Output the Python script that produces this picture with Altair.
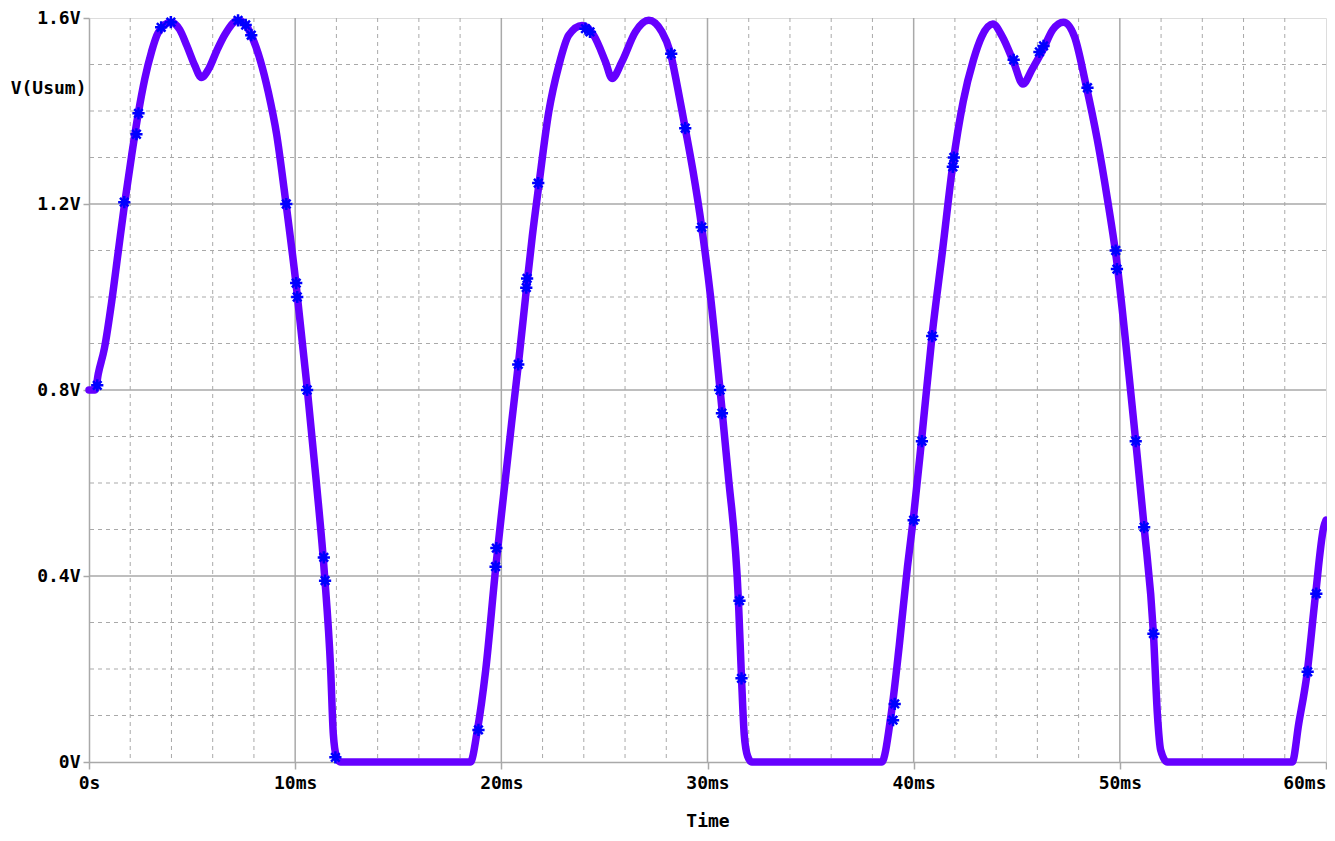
import altair as alt
import pandas as pd

# ---- waveform V(Usum) (time in ms, volts) ----
t_ms = [0, 0.3, 0.45, 0.75, 1.1, 1.42, 1.74, 2.07, 2.39, 2.71, 3.03, 3.35, 3.97, 4.4, 4.75, 5.13, 5.45, 5.8,
        6.2, 6.6, 7.23, 7.6, 7.9, 8.3, 8.7, 9.1, 9.5, 10.05, 10.58, 11.02, 11.42, 11.72, 11.85, 12.0, 12.2,
        18.5, 18.84, 19.24, 19.73, 20.1, 20.5, 20.85, 21.2, 21.5, 21.82, 22.3, 22.79, 23.27, 23.92, 24.48,
        25.05, 25.37, 25.85, 26.5, 27.15, 27.79, 28.19, 28.55, 28.92, 29.3, 29.72, 30.15, 30.61, 31.0, 31.5,
        31.65, 31.78, 31.95, 32.15,
        38.45, 38.9, 39.3, 39.7, 40.0, 40.4, 40.9, 41.4, 41.9, 42.4, 42.9, 43.3, 43.84, 44.3, 44.85, 45.3,
        45.75, 46.25, 46.75, 47.27, 47.8, 48.34, 48.9, 49.4, 49.84, 50.45, 50.77, 51.18, 51.63, 51.82, 51.98,
        52.3, 58.36, 58.68, 59.08, 59.48, 59.89, 60.0]
v_volts = [0.80, 0.80, 0.835, 0.89, 0.99, 1.098, 1.205, 1.305, 1.395, 1.47, 1.527, 1.568, 1.591, 1.575, 1.54,
           1.498, 1.472, 1.49, 1.53, 1.565, 1.595, 1.585, 1.56, 1.51, 1.44, 1.35, 1.22, 1.025, 0.805, 0.605,
           0.405, 0.2, 0.06, 0.012, 0.0,
           0.0, 0.069, 0.197, 0.419, 0.57, 0.73, 0.865, 1.01, 1.13, 1.241, 1.398, 1.498, 1.563, 1.584,
           1.563, 1.506, 1.47, 1.506, 1.57, 1.595, 1.57, 1.527, 1.45, 1.363, 1.27, 1.15, 1.0, 0.80, 0.62,
           0.347, 0.18, 0.06, 0.012, 0.0,
           0.0, 0.1, 0.25, 0.42, 0.53, 0.7, 0.92, 1.1, 1.285, 1.42, 1.51, 1.56, 1.587, 1.56, 1.505, 1.458,
           1.49, 1.53, 1.575, 1.591, 1.56, 1.46, 1.34, 1.21, 1.08, 0.83, 0.69, 0.505, 0.276, 0.104, 0.026,
           0.0, 0.0, 0.083, 0.19, 0.355, 0.505, 0.52]

# ---- blue data-point markers along the trace ----
marker_t = [0.4, 1.71, 2.3, 2.4, 3.5, 3.97, 7.23, 7.6, 7.87, 9.57, 10.05, 10.1, 10.58, 11.39, 11.45, 11.95,
            18.89, 19.72, 19.76, 20.82, 21.21, 21.25, 21.79, 24.08, 24.3, 28.24, 28.92, 29.72, 30.61, 30.7,
            31.55, 31.65, 39.0, 39.08, 40.0, 40.4, 40.9, 41.9, 41.95, 44.85, 46.1, 46.3, 48.43, 49.8, 49.86,
            50.77, 51.18, 51.63, 59.11, 59.53]
marker_v = [0.81, 1.204, 1.35, 1.395, 1.58, 1.591, 1.595, 1.585, 1.563, 1.2, 1.03, 1.0, 0.80, 0.44, 0.39,
            0.01, 0.069, 0.42, 0.46, 0.855, 1.02, 1.04, 1.245, 1.577, 1.57, 1.523, 1.363, 1.15, 0.80, 0.75,
            0.347, 0.18, 0.09, 0.125, 0.52, 0.69, 0.916, 1.28, 1.30, 1.51, 1.527, 1.54, 1.45, 1.10, 1.06,
            0.69, 0.505, 0.276, 0.194, 0.362]

# ---- axis ticks and grid positions ----
x_ticks = [0, 10, 20, 30, 40, 50, 60]
y_ticks = [0, 0.4, 0.8, 1.2, 1.6]
x_minor = [2, 4, 6, 8, 12, 14, 16, 18, 22, 24, 26, 28, 32, 34, 36, 38, 42, 44, 46, 48, 52, 54, 56, 58]
x_major = [10, 20, 30, 40, 50]
y_minor = [0.1, 0.2, 0.3, 0.5, 0.6, 0.7, 0.9, 1.0, 1.1, 1.3, 1.4, 1.5]
y_major = [0.4, 0.8, 1.2]

FONT = "DejaVu Sans Mono"
GRID = "#A9A9A9"

xs = alt.Scale(domain=[0, 60], nice=False, zero=False)
ys = alt.Scale(domain=[0, 1.6], nice=False, zero=False)

x_axis = alt.Axis(
    values=x_ticks,
    labelExpr="datum.value == 0 ? '0s' : datum.value + 'ms'",
    grid=False, domainColor=GRID, domainWidth=1.5, tickColor=GRID, tickWidth=1.5, tickSize=7,
    labelFont=FONT, labelFontWeight="bold", labelFontSize=18, labelColor="black", labelPadding=5,
    labelOverlap=False,
    labelAlign={"condition": {"test": "datum.value == 60", "value": "right"}, "value": "center"},
    title="Time", titleFont=FONT, titleFontWeight="bold", titleFontSize=18, titleColor="black",
    titleY=59, titleBaseline="middle",
)
y_axis = alt.Axis(
    values=y_ticks,
    labelExpr="datum.value == 0 ? '0V' : format(datum.value, '.1f') + 'V'",
    grid=False, domainColor=GRID, domainWidth=1.5, tickColor=GRID, tickWidth=1.5, tickSize=6,
    labelFont=FONT, labelFontWeight="bold", labelFontSize=18, labelColor="black", labelPadding=3,
    labelOverlap=False,
    title="V(Usum)", titleFont=FONT, titleFontWeight="bold", titleFontSize=18, titleColor="black",
    titleAngle=0, titleAlign="right", titleBaseline="middle", titleX=-3, titleY=70,
)

X = alt.X("t:Q", scale=xs, axis=x_axis)
Y = alt.Y("v:Q", scale=ys, axis=y_axis)

wave = pd.DataFrame({"t": t_ms, "v": v_volts})
marks = pd.DataFrame({"t": marker_t, "v": marker_v})

gx_minor = alt.Chart(pd.DataFrame({"t": x_minor})).mark_rule(
    color=GRID, strokeWidth=1, strokeDash=[4, 4]).encode(x=X)
gy_minor = alt.Chart(pd.DataFrame({"v": y_minor})).mark_rule(
    color=GRID, strokeWidth=1, strokeDash=[4, 4]).encode(y=Y)
gx_major = alt.Chart(pd.DataFrame({"t": x_major})).mark_rule(
    color=GRID, strokeWidth=1.5).encode(x=X)
gy_major = alt.Chart(pd.DataFrame({"v": y_major})).mark_rule(
    color=GRID, strokeWidth=1.5).encode(y=Y)

line = alt.Chart(wave).mark_line(
    color="#6600FF", strokeWidth=7.5, interpolate="monotone", strokeJoin="round", strokeCap="round",
    clip=False,
).encode(x=X, y=Y)

ASTERISK = "M-1,0L1,0M0,-1L0,1M-0.7,-0.7L0.7,0.7M-0.7,0.7L0.7,-0.7"
points = alt.Chart(marks).mark_point(
    shape=ASTERISK, size=150, filled=False, stroke="#0000FF", strokeWidth=2.5, opacity=1,
).encode(x=X, y=Y)

chart = alt.layer(gx_minor, gy_minor, gx_major, gy_major, line, points).properties(
    width=1237, height=744,
    autosize=alt.AutoSizeParams(type="none"),
    padding={"left": 81, "top": 10, "right": 1, "bottom": 71},
).configure_view(stroke=GRID, strokeWidth=1.5).configure(background="white")

chart.save("out.html", embed_options={"renderer": "svg", "actions": False})
